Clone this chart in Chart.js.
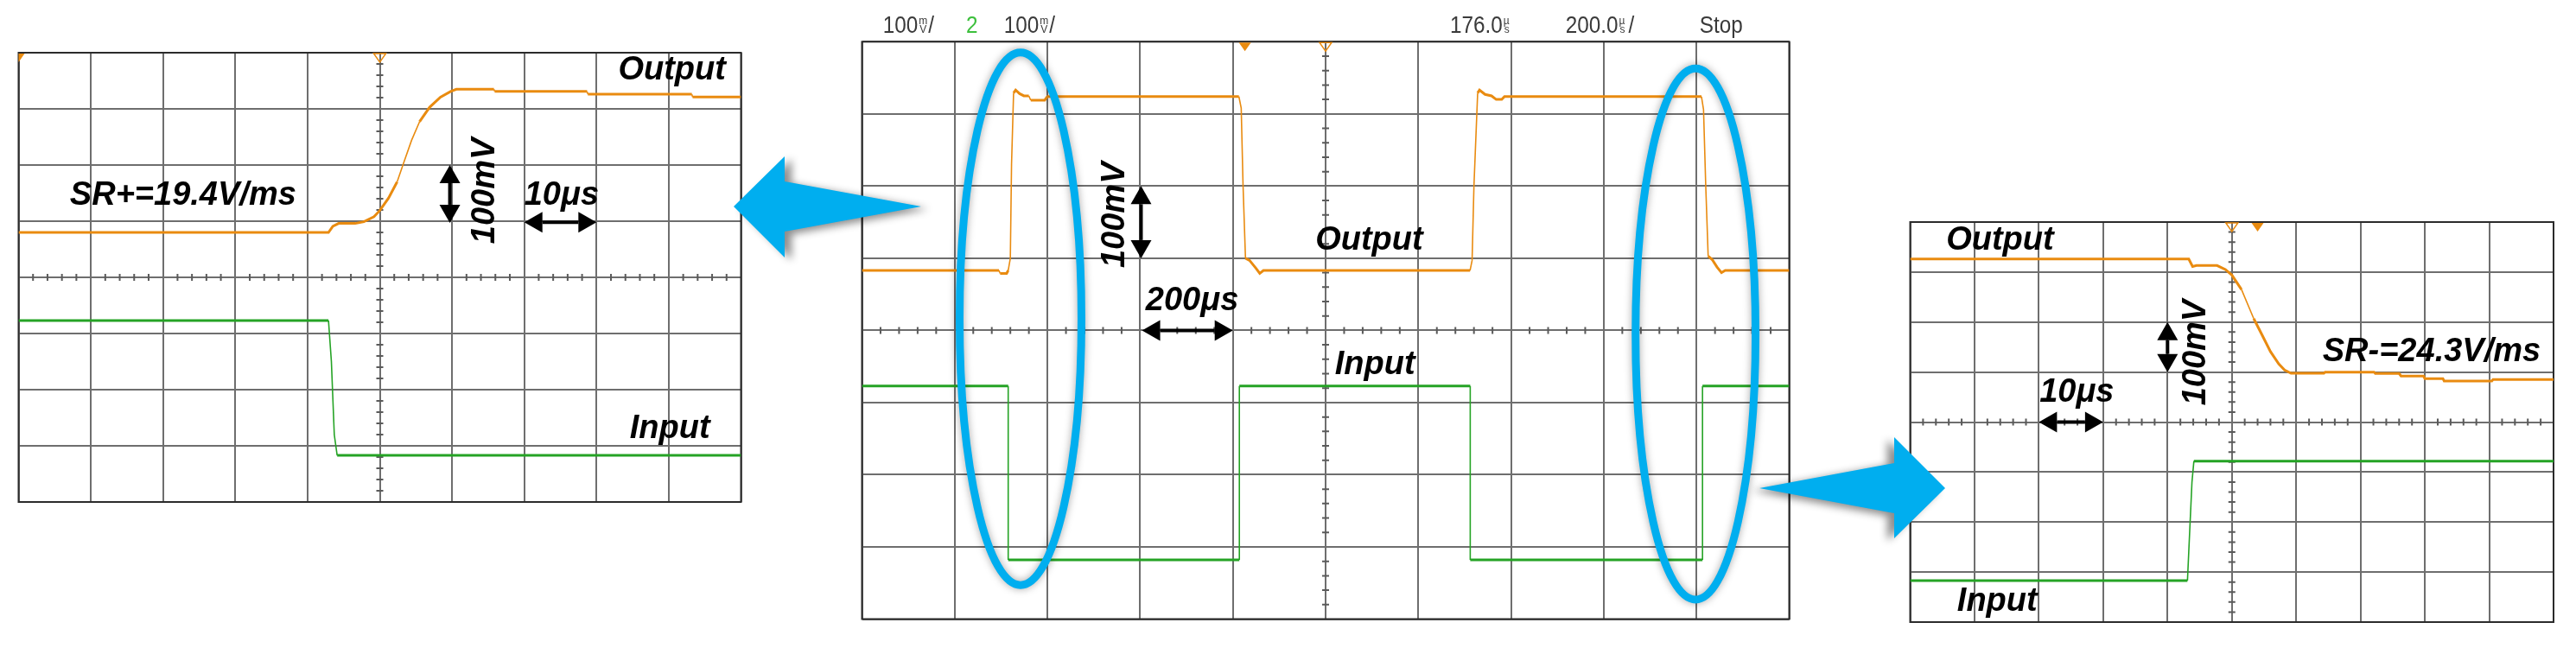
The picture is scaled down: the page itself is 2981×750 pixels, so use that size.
<!DOCTYPE html>
<html>
<head>
<meta charset="utf-8">
<title>Slew rate</title>
<script src="https://cdn.jsdelivr.net/npm/chart.js@4.4.1/dist/chart.umd.min.js"></script>
<style>
  body { margin: 0; background: #fff; width: 2981px; height: 750px; position: relative; overflow: hidden; }
  canvas { position: absolute; }
</style>
</head>
<body>
<canvas id="scopeLeft" width="880" height="570" style="left:0px;top:30px"></canvas>
<canvas id="scopeMid" width="1120" height="740" style="left:975px;top:0px"></canvas>
<canvas id="scopeRight" width="791" height="510" style="left:2190px;top:235px"></canvas>
<canvas id="overlay" width="2981" height="750" style="left:0px;top:0px"></canvas>
<script>
// time in us, voltage in mV (100 mV/div)
const leftOutT = [0, 42.9, 43.5, 44.3, 46.6, 47.8, 49.2, 50.0, 51.2, 52.4, 53.2, 54.4, 55.5, 56.9, 58.4, 59.8, 60.6, 65.8, 65.9, 78.7, 78.8, 93.2, 93.3, 100];
const leftOutV = [80, 80, 91, 96, 96, 99, 108, 119, 141, 170, 200, 244, 277, 303, 321, 331, 335, 335, 331, 331, 326, 326, 321, 321];
const leftInT = [0, 42.9, 43.3, 43.7, 44.1, 100];
const leftInV = [-77, -77, -150, -280, -317, -317];

const midOutT = [0, 295.6, 298, 312, 315.4, 320, 322.6, 327, 331.4, 340, 349.2, 360, 364, 394, 400, 813, 818, 822, 827.2, 836, 850, 858, 866, 1311.6, 1316, 1320, 1328, 1332, 1344, 1358, 1368, 1380, 1386, 1810.8, 1815.2, 1820, 1825.2, 1834, 1844, 1854, 1862, 2000];
const midOutV = [83, 83, 79, 79, 83, 100, 230, 329, 333, 328, 325, 325, 319, 319, 324, 324, 308, 200, 100, 97, 86, 79, 83, 83, 97, 200, 329, 333, 327, 325, 320, 320, 324, 324, 306, 200, 103, 98, 88, 80, 83, 83];
const midInT = [0, 315.4, 315.4, 814, 814, 1312, 1312, 1813, 1813, 2000];
const midInV = [-77, -77, -318, -318, -77, -77, -318, -318, -77, -77];

const rightOutT = [0, 43.3, 43.9, 44.5, 47.7, 49.0, 50.0, 51.5, 53.4, 54.7, 56.0, 57.3, 58.2, 59.2, 64.3, 64.5, 72.1, 72.3, 76.0, 76.3, 79.8, 80.0, 82.8, 83.0, 90.4, 90.6, 100];
const rightOutV = [326, 326, 311, 313, 313, 305, 294, 265, 207, 174, 141, 116, 104, 97.5, 97.5, 100, 100, 97, 97, 92, 92, 87, 87, 82, 82, 85, 85];
const rightInT = [0, 43.1, 43.3, 43.8, 44.1, 100];
const rightInV = [-317, -317, -260, -120, -78, -78];

const sideSpan = 100;   // 10 us/div
const midSpan = 2000;   // 200 us/div
const voltSpan = 400;   // +-4 div of 100 mV

const leftTrig = [0, 50];     // [filled, hollow]
const midTrig = [826, 1000];
const rightTrig = [54, 50];

const ORANGE = '#e98b10';
const GREEN = '#25a325';
const BLUE = '#00aeef';
const BIG = 'italic bold 38px "Liberation Sans", Arial, sans-serif';

function divPt(a, dx, dy) {
  return [a.left + dx * a.width / 10, a.top + dy * a.height / 8];
}

function dblArrow(ctx, x1, y1, x2, y2) {
  const ang = Math.atan2(y2 - y1, x2 - x1), c = Math.cos(ang), s = Math.sin(ang);
  const hl = 21, hw = 12;
  ctx.save();
  ctx.strokeStyle = '#000';
  ctx.fillStyle = '#000';
  ctx.lineWidth = 4;
  ctx.beginPath();
  ctx.moveTo(x1 + c * hl, y1 + s * hl);
  ctx.lineTo(x2 - c * hl, y2 - s * hl);
  ctx.stroke();
  [[x1, y1, 1], [x2, y2, -1]].forEach(([x, y, d]) => {
    ctx.beginPath();
    ctx.moveTo(x, y);
    ctx.lineTo(x + d * c * hl - s * hw, y + d * s * hl + c * hw);
    ctx.lineTo(x + d * c * hl + s * hw, y + d * s * hl - c * hw);
    ctx.closePath();
    ctx.fill();
  });
  ctx.restore();
}

function trigMark(ctx, px, top, filled) {
  ctx.save();
  ctx.beginPath();
  ctx.moveTo(px - 7, top + 1);
  ctx.lineTo(px + 7, top + 1);
  ctx.lineTo(px, top + 11);
  ctx.closePath();
  if (filled) { ctx.fillStyle = ORANGE; ctx.fill(); }
  else { ctx.strokeStyle = ORANGE; ctx.lineWidth = 1.5; ctx.stroke(); }
  ctx.restore();
}

function makeDeco(deco) {
  return {
    id: 'scopeDeco',
    beforeDatasetsDraw(chart) {
      const { ctx, chartArea: a, scales: { x, y } } = chart;
      const cx = x.getPixelForValue((x.min + x.max) / 2);
      const cy = y.getPixelForValue((y.min + y.max) / 2);
      ctx.save();
      ctx.strokeStyle = '#5a5a5a';
      ctx.lineWidth = 2;
      ctx.beginPath();
      for (let i = 1; i < 50; i++) {
        if (i % 5 === 0) continue;
        const px = x.getPixelForValue(x.min + i * (x.max - x.min) / 50);
        ctx.moveTo(px, cy - 4); ctx.lineTo(px, cy + 4);
      }
      for (let j = 1; j < 40; j++) {
        if (j % 5 === 0) continue;
        const py = y.getPixelForValue(y.min + j * (y.max - y.min) / 40);
        ctx.moveTo(cx - 4, py); ctx.lineTo(cx + 4, py);
      }
      ctx.stroke();
      ctx.strokeStyle = '#2b2b2b';
      ctx.strokeRect(a.left, a.top, a.width, a.height);
      ctx.restore();
    },
    afterDatasetsDraw(chart) {
      const { ctx, chartArea: a, scales: { x } } = chart;
      ctx.save();
      ctx.beginPath();
      ctx.rect(a.left, a.top, a.width, a.height);
      ctx.clip();
      trigMark(ctx, x.getPixelForValue(deco.trig[0]), a.top, true);
      trigMark(ctx, x.getPixelForValue(deco.trig[1]), a.top, false);
      ctx.restore();

      (deco.ellipses || []).forEach(e => {
        const [ex, ey] = divPt(a, e[0], e[1]);
        ctx.save();
        ctx.strokeStyle = BLUE;
        ctx.lineWidth = 9;
        ctx.shadowColor = 'rgba(0,0,0,0.35)';
        ctx.shadowBlur = 10;
        ctx.beginPath();
        ctx.ellipse(ex, ey, e[2] * a.width / 10, e[3] * a.height / 8, 0, 0, Math.PI * 2);
        ctx.stroke();
        ctx.restore();
      });

      ctx.save();
      ctx.fillStyle = '#000';
      ctx.font = BIG;
      ctx.textBaseline = 'alphabetic';
      deco.texts.forEach(t => {
        const [px, py] = divPt(a, t[1], t[2]);
        ctx.fillText(t[0], px, py);
      });
      deco.vtexts.forEach(t => {
        const [px, py] = divPt(a, t[1], t[2]);
        ctx.save();
        ctx.translate(px, py);
        ctx.rotate(-Math.PI / 2);
        ctx.textAlign = 'center';
        ctx.textBaseline = 'middle';
        ctx.fillText(t[0], 0, 0);
        ctx.restore();
      });
      ctx.restore();
      deco.varrows.forEach(v => {
        const p1 = divPt(a, v[0], v[1]), p2 = divPt(a, v[0], v[2]);
        dblArrow(ctx, p1[0], p1[1], p2[0], p2[1]);
      });
      deco.harrows.forEach(h => {
        const p1 = divPt(a, h[0], h[2]), p2 = divPt(a, h[1], h[2]);
        dblArrow(ctx, p1[0], p1[1], p2[0], p2[1]);
      });
      if (deco.header) drawHeader(ctx, a, deco.header);
    }
  };
}

function drawHeader(ctx, a, items) {
  const base = a.top - 10;
  ctx.save();
  ctx.textBaseline = 'alphabetic';
  items.forEach(it => {
    let cx = a.left + it.at;
    ctx.fillStyle = it.color || '#3a3a3a';
    it.parts.forEach(p => {
      if (Array.isArray(p)) {
        ctx.font = '12px "Liberation Sans", Arial, sans-serif';
        ctx.fillText(p[0], cx, base - 10);
        ctx.fillText(p[1], cx + 1, base);
        cx += 11;
      } else {
        ctx.font = '27px "Liberation Sans", Arial, sans-serif';
        ctx.save();
        ctx.translate(cx, base);
        ctx.scale(0.9, 1);
        ctx.fillText(p, 0, 0);
        ctx.restore();
        cx += ctx.measureText(p).width * 0.9 + 1;
      }
    });
  });
  ctx.restore();
}

function scopeChart(id, frame, span, series, deco) {
  const cv = document.getElementById(id);
  const left = parseFloat(cv.style.left), top = parseFloat(cv.style.top);
  const pad = {
    left: frame[0] - left,
    top: frame[1] - top,
    right: left + cv.width - frame[2],
    bottom: top + cv.height - frame[3]
  };
  const grid = { color: '#6e6e6e', lineWidth: 2, drawTicks: false };
  return new Chart(cv, {
    type: 'line',
    data: {
      datasets: series.map(s => ({
        data: s.t.map((t, i) => ({ x: t, y: s.v[i] })),
        borderColor: s.color,
        borderWidth: 3,
        pointRadius: 0,
        tension: 0,
        segment: {
          borderWidth: c => Math.abs(c.p1.y - c.p0.y) > 2 * Math.abs(c.p1.x - c.p0.x) ? 1.6 : 3
        }
      }))
    },
    options: {
      responsive: false,
      animation: false,
      events: [],
      layout: { padding: pad },
      plugins: { legend: { display: false }, tooltip: { enabled: false } },
      scales: {
        x: { type: 'linear', min: 0, max: span, ticks: { display: false, stepSize: span / 10 }, grid: grid, border: { display: false } },
        y: { type: 'linear', min: -voltSpan, max: voltSpan, ticks: { display: false, stepSize: voltSpan / 4 }, grid: grid, border: { display: false } }
      }
    },
    plugins: [makeDeco(deco)]
  });
}

scopeChart('scopeLeft', [21.5, 61, 857.5, 581], sideSpan, [
  { t: leftOutT, v: leftOutV, color: ORANGE },
  { t: leftInT, v: leftInV, color: GREEN }
], {
  trig: leftTrig,
  texts: [['Output', 8.30, 0.48], ['SR+=19.4V/ms', 0.71, 2.71], ['10\u03bcs', 7.0, 2.71], ['Input', 8.46, 6.86]],
  vtexts: [['100mV', 6.46, 2.46]],
  varrows: [[5.97, 2.0, 3.03]],
  harrows: [[7.0, 8.0, 3.02]]
});

scopeChart('scopeMid', [997.5, 48.3, 2070.5, 716.5], midSpan, [
  { t: midOutT, v: midOutV, color: ORANGE },
  { t: midInT, v: midInV, color: GREEN }
], {
  trig: midTrig,
  texts: [['Output', 4.89, 2.88], ['200\u03bcs', 3.06, 3.72], ['Input', 5.10, 4.61]],
  vtexts: [['100mV', 2.73, 2.40]],
  varrows: [[3.01, 2.0, 3.0]],
  harrows: [[3.02, 4.0, 4.0]],
  ellipses: [[1.71, 3.84, 0.657, 3.69], [8.99, 4.05, 0.647, 3.68]],
  header: [
    { at: 24.2, parts: ['100', ['m', 'V'], '/'] },
    { at: 120.5, parts: ['2'], color: '#3cbf3c' },
    { at: 164.2, parts: ['100', ['m', 'V'], '/'] },
    { at: 680.5, parts: ['176.0', ['\u00b5', 's']] },
    { at: 814.2, parts: ['200.0', ['\u00b5', 's'], '/'] },
    { at: 969.2, parts: ['Stop'] }
  ]
});

scopeChart('scopeRight', [2210.5, 257, 2955, 720], sideSpan, [
  { t: rightOutT, v: rightOutV, color: ORANGE },
  { t: rightInT, v: rightInV, color: GREEN }
], {
  trig: rightTrig,
  texts: [['Output', 0.56, 0.55], ['SR-=24.3V/ms', 6.41, 2.79], ['10\u03bcs', 2.01, 3.59], ['Input', 0.73, 7.77]],
  vtexts: [['100mV', 4.44, 2.61]],
  varrows: [[4.0, 2.0, 3.0]],
  harrows: [[2.0, 3.0, 4.0]]
});

// the two big pointers between the screens
function bigArrow(ctx, pts, shadowDx) {
  ctx.save();
  ctx.shadowColor = 'rgba(0,0,0,0.45)';
  ctx.shadowBlur = 10;
  ctx.shadowOffsetX = shadowDx;
  ctx.shadowOffsetY = 3;
  ctx.fillStyle = BLUE;
  ctx.beginPath();
  pts.forEach((p, i) => i ? ctx.lineTo(p[0], p[1]) : ctx.moveTo(p[0], p[1]));
  ctx.closePath();
  ctx.fill();
  ctx.restore();
}

const ov = document.getElementById('overlay').getContext('2d');
bigArrow(ov, [[849, 239], [908, 181], [908, 210], [1066, 239], [908, 268], [908, 298]], 8);
bigArrow(ov, [[2036, 565], [2192, 536], [2192, 506], [2251, 565], [2192, 623], [2192, 594]], -8);
</script>
</body>
</html>
